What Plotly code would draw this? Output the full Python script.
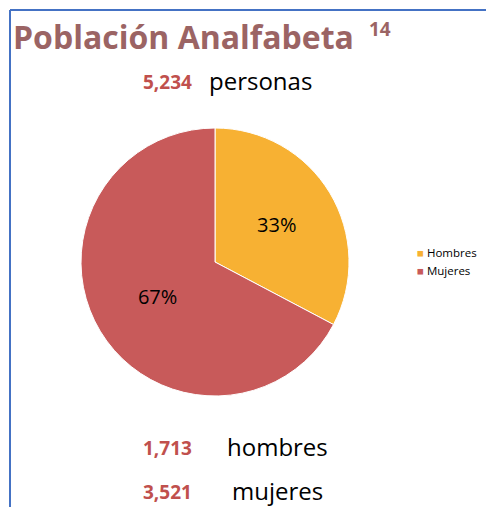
import plotly.graph_objects as go

categories = ["Hombres", "Mujeres"]
values = [1713, 3521]
colors = ["#F7B133", "#C85A5A"]
total = sum(values)
legend_labels = categories
summary_words = ["personas", "hombres", "mujeres"]

title_color = "#9B6464"
num_color = "#C0504D"
font_family = "'Open Sans', sans-serif"

W, H = 486, 507


def px(x):
    return x / W


def py(y):
    return 1 - y / H


fig = go.Figure()
fig.add_trace(go.Pie(
    labels=categories,
    values=values,
    marker=dict(colors=colors, line=dict(color="white", width=1)),
    sort=False,
    direction="clockwise",
    rotation=0,
    textinfo="percent",
    texttemplate="%{percent:.0%}",
    textposition="inside",
    insidetextorientation="horizontal",
    textfont=dict(size=20, color="black", family=font_family),
    domain=dict(x=[px(215 - 137), px(215 + 137)], y=[py(262 + 134), py(262 - 134)]),
    showlegend=False,
))

annotations = [
    dict(text="<b>Población Analfabeta</b>", x=px(11), y=py(36), xanchor="left", yanchor="middle",
         font=dict(size=32, color=title_color)),
    dict(text="<b>14</b>", x=px(367), y=py(29), xanchor="left", yanchor="middle",
         font=dict(size=19, color=title_color)),
    dict(text=f"<b>{total:,}</b>", x=px(194), y=py(82), xanchor="right", yanchor="middle",
         font=dict(size=19, color=num_color)),
    dict(text=summary_words[0], x=px(207), y=py(80), xanchor="left", yanchor="middle",
         font=dict(size=24, color="black")),
    dict(text=f"<b>{values[0]:,}</b>", x=px(194), y=py(448), xanchor="right", yanchor="middle",
         font=dict(size=19, color=num_color)),
    dict(text=summary_words[1], x=px(225), y=py(446), xanchor="left", yanchor="middle",
         font=dict(size=24, color="black")),
    dict(text=f"<b>{values[1]:,}</b>", x=px(194), y=py(492), xanchor="right", yanchor="middle",
         font=dict(size=19, color=num_color)),
    dict(text=summary_words[2], x=px(230), y=py(490), xanchor="left", yanchor="middle",
         font=dict(size=24, color="black")),
]
for i, (lab, col) in enumerate(zip(legend_labels, colors)):
    annotations.append(dict(
        text=f"<span style='color:{col}'>■</span> {lab}",
        x=px(415), y=py(252 + 18 * i), xanchor="left", yanchor="middle",
        font=dict(size=11.5, color="black"),
    ))
for a in annotations:
    a.update(xref="paper", yref="paper", showarrow=False)
    a["font"].setdefault("family", font_family)

fig.update_layout(
    width=W, height=H,
    margin=dict(l=0, r=0, t=0, b=0),
    paper_bgcolor="white",
    plot_bgcolor="white",
    font=dict(family=font_family),
    showlegend=False,
    shapes=[
        dict(type="line", xref="paper", yref="paper", x0=px(10), x1=1.0, y0=py(10), y1=py(10),
             line=dict(color="#4472C4", width=2)),
        dict(type="line", xref="paper", yref="paper", x0=px(10), x1=px(10), y0=py(10), y1=0.0,
             line=dict(color="#4472C4", width=2)),
    ],
    annotations=annotations,
)

fig.write_html(
    "out.html",
    config={"displayModeBar": False},
    post_script="document.body.style.margin='0';document.body.style.overflow='hidden';",
)
